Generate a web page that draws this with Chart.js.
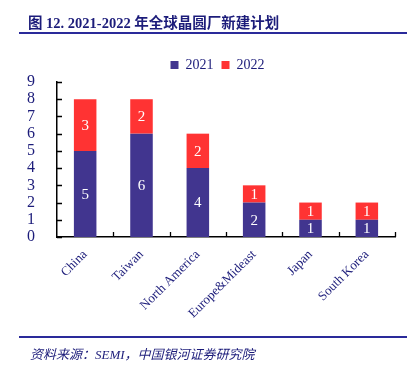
<!DOCTYPE html>
<html><head><meta charset="utf-8">
<script src="https://cdn.jsdelivr.net/npm/chart.js@4"></script>
<style>
html,body{margin:0;padding:0;background:#fff;}
#wrap{position:relative;width:420px;height:372px;overflow:hidden;}
#c{position:absolute;left:0;top:0;}
#title{position:absolute;left:28px;top:11px;font-family:"Liberation Serif","Noto Sans CJK SC",serif;font-weight:bold;font-size:14.5px;color:#1c1c7a;white-space:nowrap;}
#l1{position:absolute;left:19px;top:32px;width:388px;height:2px;background:#2a2a9a;}
#l2{position:absolute;left:19px;top:336px;width:388px;height:2px;background:#2a2a9a;}
#src{position:absolute;left:30px;top:344px;font-family:"Liberation Serif","Noto Sans CJK SC",serif;font-style:italic;font-size:13px;color:#1c1c7a;white-space:nowrap;}
</style></head>
<body><div id="wrap">
<canvas id="c" width="420" height="372"></canvas>
<div id="title">图 12. 2021-2022 年全球晶圆厂新建计划</div>
<div id="l1"></div>
<div id="l2"></div>
<div id="src">资料来源：SEMI，中国银河证券研究院</div>
</div>
<script>
const categories = ["China","Taiwan","North America","Europe&Mideast","Japan","South Korea"];
const seriesNames = ["2021","2022"];
const values2021 = [5,6,4,2,1,1];
const values2022 = [3,2,2,1,1,1];
const yTicks = [0,1,2,3,4,5,6,7,8,9];

const navy = "#1c1c7a";
const serif = "'Liberation Serif','Times New Roman',serif";

const innerTicks = {
  id:"innerTicks",
  afterDraw(chart){
    const ctx = chart.ctx, a = chart.chartArea;
    const ys = chart.scales.y, xs = chart.scales.x;
    ctx.save();
    ctx.strokeStyle = "#000"; ctx.lineWidth = 1.3;
    ctx.beginPath();
    yTicks.forEach(v=>{
      const p = Math.round(ys.getPixelForValue(v))+0.5;
      ctx.moveTo(a.left, p); ctx.lineTo(a.left+5, p);
    });
    const n = categories.length;
    const w = (a.right-a.left)/n;
    for(let i=1;i<=n;i++){
      const p = Math.round(xs.getPixelForValue(i-1)+w/2)+0.5;
      ctx.moveTo(p, a.bottom); ctx.lineTo(p, a.bottom-5);
    }
    ctx.stroke();
    ctx.restore();
  }
};

const shiftLegend = {
  id:"shiftLegend",
  afterLayout(chart){
    if(chart.legend){ chart.legend.left += 20; chart.legend.right += 20; }
  }
};

const barLabels = {
  id:"barLabels",
  afterDatasetsDraw(chart){
    const ctx = chart.ctx;
    ctx.save();
    ctx.fillStyle = "#fff";
    ctx.font = "15px " + serif;
    ctx.textAlign = "center"; ctx.textBaseline = "middle";
    chart.data.datasets.forEach((ds,di)=>{
      const meta = chart.getDatasetMeta(di);
      meta.data.forEach((el,i)=>{
        const v = ds.data[i];
        if(!v) return;
        ctx.fillText(String(v), el.x, (el.y+el.base)/2+1);
      });
    });
    ctx.restore();
  }
};

new Chart(document.getElementById("c"),{
  type:"bar",
  data:{
    labels:categories,
    datasets:[
      {label:seriesNames[0], data:values2021, backgroundColor:"#41358f", borderWidth:0},
      {label:seriesNames[1], data:values2022, backgroundColor:"#ff3333", borderWidth:0}
    ]
  },
  options:{
    responsive:false, animation:false,
    devicePixelRatio:1,
    layout:{padding:{left:0,right:25,top:50,bottom:0}},
    datasets:{bar:{categoryPercentage:1, barPercentage:0.4}},
    plugins:{
      legend:{position:"top", labels:{boxWidth:8, boxHeight:8, padding:8, color:navy, font:{family:serif,size:14}}},
      tooltip:{enabled:false}
    },
    scales:{
      x:{stacked:true,
        grid:{display:false},
        border:{display:true,color:"#000",width:1.5},
        ticks:{color:navy, font:{family:serif,size:13}, maxRotation:45, minRotation:45, padding:2, autoSkip:false},
        afterFit(s){ s.height = 135; }
      },
      y:{stacked:true, min:0, max:9,
        grid:{display:false},
        border:{display:true,color:"#000",width:1.5},
        ticks:{stepSize:1, autoSkip:false, color:navy, font:{family:serif,size:16}, padding:14},
        afterFit(s){ s.width = 57; }
      }
    }
  },
  plugins:[innerTicks, shiftLegend, barLabels]
});
</script>
</body></html>
